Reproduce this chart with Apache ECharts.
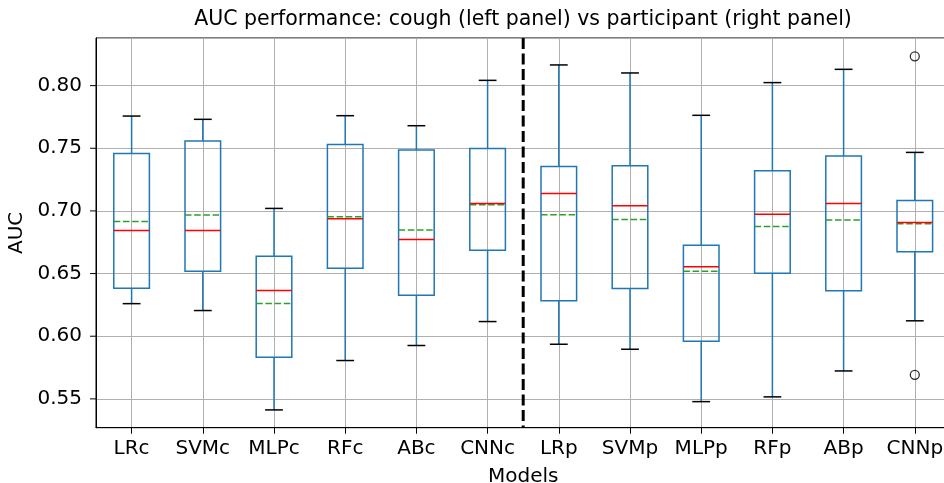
<!DOCTYPE html>
<html><head><meta charset="utf-8">
<script src="https://cdn.jsdelivr.net/npm/echarts@6/dist/echarts.min.js"></script>
<style>html,body{margin:0;padding:0;background:#fff}#c{width:944px;height:483px}</style>
</head><body><div id="c"></div>
<script>
const categories = ['LRc','SVMc','MLPc','RFc','ABc','CNNc','LRp','SVMp','MLPp','RFp','ABp','CNNp'];
const whiskerLow  = [0.6260,0.6205,0.5412,0.5806,0.5926,0.6117,0.5936,0.5896,0.5478,0.5516,0.5723,0.6123];
const q1          = [0.6383,0.6519,0.5832,0.6543,0.6328,0.6687,0.6283,0.6381,0.5960,0.6503,0.6363,0.6674];
const medians     = [0.6844,0.6844,0.6365,0.6938,0.6772,0.7060,0.7140,0.7042,0.6554,0.6974,0.7060,0.6908];
const q3          = [0.7459,0.7558,0.6639,0.7531,0.7486,0.7499,0.7355,0.7361,0.6727,0.7321,0.7438,0.7084];
const whiskerHigh = [0.7757,0.7731,0.7020,0.7760,0.7680,0.8042,0.8165,0.8101,0.7763,0.8024,0.8130,0.7467];
const means       = [0.6916,0.6967,0.6261,0.6954,0.6847,0.7049,0.6970,0.6932,0.6519,0.6876,0.6927,0.6898];
const outlierCats = ['CNNp','CNNp'];
const outlierVals = [0.8234,0.5692];
const yTicks = [0.55,0.60,0.65,0.70,0.75,0.80];
const separatorAfter = 'CNNc';
const titleText = 'AUC performance: cough (left panel) vs participant (right panel)';

const FONT = 'DejaVu Sans';
const BLUE = '#1f77b4';

const boxData = categories.map((c, i) => [i, whiskerLow[i], q1[i], medians[i], q3[i], whiskerHigh[i], means[i]]);
const outlierData = outlierCats.map((c, k) => [categories.indexOf(c), outlierVals[k]]);

function renderBox(params, api) {
  const i = api.value(0);
  const band = api.size([1, 0])[0];
  const x = api.coord([i, api.value(3)])[0];
  const yLow = api.coord([i, api.value(1)])[1];
  const yQ1 = api.coord([i, api.value(2)])[1];
  const yMed = api.coord([i, api.value(3)])[1];
  const yQ3 = api.coord([i, api.value(4)])[1];
  const yHigh = api.coord([i, api.value(5)])[1];
  const yMean = api.coord([i, api.value(6)])[1];
  const bw = band * 0.5, cw = band * 0.25;
  const lw = 1.5;
  return {
    type: 'group',
    children: [
      {type: 'line', shape: {x1: x, y1: yQ1, x2: x, y2: yLow}, style: {stroke: BLUE, lineWidth: lw}},
      {type: 'line', shape: {x1: x, y1: yQ3, x2: x, y2: yHigh}, style: {stroke: BLUE, lineWidth: lw}},
      {type: 'line', shape: {x1: x - cw / 2, y1: yLow, x2: x + cw / 2, y2: yLow}, style: {stroke: '#000', lineWidth: lw}},
      {type: 'line', shape: {x1: x - cw / 2, y1: yHigh, x2: x + cw / 2, y2: yHigh}, style: {stroke: '#000', lineWidth: lw}},
      {type: 'rect', shape: {x: x - bw / 2, y: yQ3, width: bw, height: yQ1 - yQ3}, style: {stroke: BLUE, fill: null, lineWidth: lw}},
      {type: 'line', shape: {x1: x - bw / 2, y1: yMean, x2: x + bw / 2, y2: yMean}, style: {stroke: '#2ca02c', lineWidth: lw, lineDash: [6.5, 2.7]}},
      {type: 'line', shape: {x1: x - bw / 2, y1: yMed, x2: x + bw / 2, y2: yMed}, style: {stroke: '#ff0000', lineWidth: lw}}
    ]
  };
}

function renderSep(params, api) {
  const i = api.value(0);
  const band = api.size([1, 0])[0];
  const x = api.coord([i, 0.7])[0] + band / 2;
  const cs = params.coordSys;
  return {
    type: 'line',
    shape: {x1: x, y1: cs.y, x2: x, y2: cs.y + cs.height},
    style: {stroke: '#000', lineWidth: 3, lineDash: [11, 4.5]}
  };
}

function renderYTick(params, api) {
  const cs = params.coordSys;
  const y = api.coord([0, api.value(0)])[1];
  return {
    type: 'line',
    shape: {x1: cs.x - 6, y1: y, x2: cs.x, y2: y},
    style: {stroke: '#000', lineWidth: 1}
  };
}

const chart = echarts.init(document.getElementById('c'), null, {renderer: 'canvas'});
chart.setOption({
  animation: false,
  backgroundColor: '#fff',
  textStyle: {fontFamily: FONT},
  title: {
    text: titleText, left: 523, top: 9, textAlign: 'center', padding: 0,
    textStyle: {fontFamily: FONT, fontSize: 20.5, fontWeight: 'normal', color: '#000'}
  },
  grid: {left: 96, width: 854.4, top: 38, bottom: 55.3, show: true, borderColor: '#000', borderWidth: 1,
         containLabel: false, outerBoundsMode: 'none'},
  xAxis: {
    type: 'category', data: categories,
    name: 'Models', nameLocation: 'middle', nameGap: 39,
    nameTextStyle: {fontFamily: FONT, fontSize: 20, color: '#000'},
    axisLine: {show: true, lineStyle: {color: '#000', width: 1}},
    axisTick: {show: true, alignWithLabel: true, length: 6, lineStyle: {color: '#000'}},
    axisLabel: {fontFamily: FONT, fontSize: 20, color: '#000', margin: 11, interval: 0},
    splitLine: {show: true, alignWithLabel: true, interval: 0, lineStyle: {color: '#b0b0b0', width: 1}}
  },
  yAxis: {
    type: 'value', min: 0.527, max: 0.838,
    name: 'AUC', nameLocation: 'middle', nameGap: 66,
    nameTextStyle: {fontFamily: FONT, fontSize: 20, color: '#000'},
    axisLine: {show: true, lineStyle: {color: '#000', width: 1}},
    axisTick: {show: false},
    axisLabel: {
      fontFamily: FONT, fontSize: 20, color: '#000', margin: 14, customValues: yTicks,
      formatter: v => v.toFixed(2)
    },
    splitLine: {show: true, lineStyle: {color: '#b0b0b0', width: 1}}
  },
  series: [
    {type: 'custom', renderItem: renderBox, data: boxData, encode: {x: 0, y: [1, 2, 3, 4, 5, 6]}, z: 3, clip: false},
    {type: 'scatter', data: outlierData, symbol: 'circle', symbolSize: 9,
     itemStyle: {color: 'rgba(0,0,0,0)', borderColor: '#000', borderWidth: 1.3}, z: 4},
    {type: 'custom', renderItem: renderSep, data: [[categories.indexOf(separatorAfter)]], encode: {x: 0}, z: 5},
    {type: 'custom', renderItem: renderYTick, data: yTicks.map(v => [v]), encode: {y: 0}, z: 5, clip: false}
  ]
});
</script></body></html>
